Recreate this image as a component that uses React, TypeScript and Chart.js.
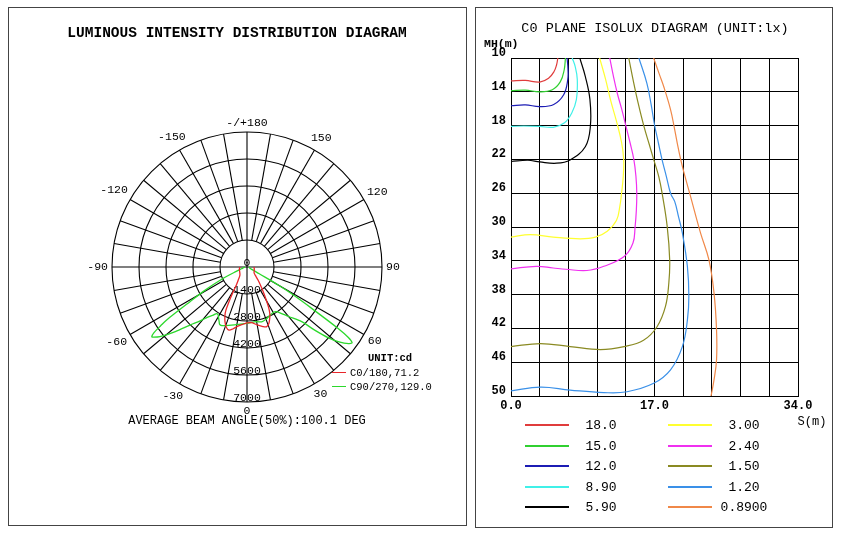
import React, { useEffect, useRef } from "react";
import { Chart, registerables } from "chart.js";

Chart.register(...registerables);

const MONO = "'Liberation Mono', 'DejaVu Sans Mono', monospace";

// ---------------- Luminous intensity (polar) data ----------------
const RING_VALUES = [0, 1400, 2800, 4200, 5600, 7000];
const ANGLE_MARKS = [0, 30, 60, 90, 120, 150, 180, 210, 240, 270, 300, 330];
const ANGLE_TEXT = ["0", "30", "60", "90", "120", "150", "-/+180", "-150", "-120", "-90", "-60", "-30"];
const SPOKE_STEP = 10;

const C0_GAMMA = [0, 5, 10, 15, 18, 21, 24, 26, 28, 30, 32, 35, 40, 45, 50, 60, 70, 80, 90];
const C0_CD = [2840, 2900, 3050, 3200, 3260, 3150, 2900, 2700, 2400, 2020, 1700, 1330, 900, 600, 480, 430, 400, 380, 360];
const C180_GAMMA = [0, 5, 10, 13, 16, 19, 22, 24.6, 26, 27.5, 29, 30.5, 34, 41, 55, 70, 90];
const C180_CD = [2900, 3000, 3150, 3300, 3400, 3300, 3050, 2740, 2500, 2000, 1500, 1100, 800, 560, 460, 420, 380];
const C90_GAMMA = [0, 10, 15, 20, 25, 30, 33, 36, 40, 45, 47, 49, 51, 53, 54.2, 55.2, 56, 57.4, 59, 60.1, 61, 63, 70, 90];
const C90_CD = [2840, 2880, 2940, 2880, 2780, 2720, 2760, 2950, 3350, 4010, 4800, 5600, 6200, 6600, 6720, 6400, 5700, 3980, 2700, 1870, 700, 300, 150, 100];
const C270_GAMMA = [0, 8, 15, 20, 23.3, 25.5, 27, 29.5, 31, 33, 35, 38, 41, 44.5, 48, 51.3, 53, 53.8, 54.8, 55.8, 56.6, 58.7, 61, 64.5, 68, 72, 80, 90];
const C270_CD = [2920, 3000, 3120, 3230, 3310, 3300, 3180, 3000, 2900, 2880, 3040, 3300, 3700, 4220, 5000, 5780, 6050, 6120, 5900, 5400, 4990, 3460, 2500, 1360, 600, 300, 150, 100];

const POLAR_LABELS = ["C0/180,71.2", "C90/270,129.0"];
const POLAR_COLORS = ["#e8262a", "#2cd82c"];

// ---------------- Isolux data ----------------
const S_TICKS = [0, 3.4, 6.8, 10.2, 13.6, 17, 20.4, 23.8, 27.2, 30.6, 34];
const S_LABELED = [0, 17, 34];
const MH_TICKS = [10, 14, 18, 22, 26, 30, 34, 38, 42, 46, 50];

const ISO_LEVELS = ["18.0", "15.0", "12.0", "8.90", "5.90", "3.00", "2.40", "1.50", "1.20", "0.8900"];
const ISO_COLORS = ["#e03c3c", "#30d030", "#1c1cb4", "#40f0e8", "#000000", "#ffff30", "#f030f0", "#8a8a22", "#3a90e8", "#f08848"];

const ISO_18_S = [0, 1.7, 3.4, 4.45, 5.1, 5.4, 5.55];
const ISO_18_MH = [12.7, 12.65, 12.85, 12.4, 11.6, 10.8, 10];
const ISO_15_S = [0, 1.7, 3.4, 4.9, 5.85, 6.3, 6.45];
const ISO_15_MH = [13.87, 13.8, 14.0, 13.75, 12.8, 11.4, 10];
const ISO_12_S = [0, 1.7, 3.4, 5.06, 6.24, 6.72, 6.75, 6.64];
const ISO_12_MH = [15.65, 15.55, 15.75, 15.5, 14.35, 12.6, 11.3, 10];
const ISO_89_S = [0, 1.5, 3.4, 5, 6.3, 7.2, 7.75, 7.85, 7.6, 7.25];
const ISO_89_MH = [18.1, 18.05, 18.1, 18.2, 17.7, 16.5, 14.9, 12.5, 11, 10];
const ISO_59_S = [0, 2, 3.4, 5.4, 7.0, 8.8, 9.4, 9.35, 8.8, 8.15];
const ISO_59_MH = [22.25, 22.1, 22.3, 22.45, 22.06, 20.5, 18.1, 14.9, 12.17, 10];
const ISO_30_S = [10.5, 11.2, 11.8, 12.5, 13.1, 13.35, 13.3, 13.1, 12.9, 12.5, 11.4, 10, 8.2, 5, 2.3, 0];
const ISO_30_MH = [10, 12.5, 15, 17.5, 20, 22, 24, 26, 27.5, 29.2, 30.5, 31.2, 31.4, 31.2, 30.9, 31.2];
const ISO_24_S = [11.7, 12.1, 12.6, 13.1, 13.6, 14.1, 14.55, 14.8, 14.9, 14.85, 14.7, 14.45, 13.4, 11, 9, 6.5, 5, 3, 0];
const ISO_24_MH = [10, 12, 14.2, 16, 18, 20, 22, 24, 26, 28, 30, 31.9, 33.5, 34.65, 35.15, 35.0, 34.85, 34.65, 34.95];
const ISO_15L_S = [13.95, 14.55, 15.1, 15.75, 16.4, 16.9, 17.5, 17.9, 18.5, 18.8, 18.7, 18.3, 17.3, 15.7, 13.4, 10.6, 7, 3.5, 0];
const ISO_15L_MH = [10, 13, 15.5, 18.1, 20.3, 22, 24, 26, 29.9, 33.9, 36.6, 39.4, 41.8, 43.4, 44.15, 44.5, 44.15, 43.8, 44.15];
const ISO_12L_S = [15.15, 16.1, 16.6, 17, 17.45, 17.9, 18.4, 18.9, 19.4, 19.85, 20.3, 20.9, 21.07, 20.9, 20.3, 18.9, 16.9, 13.75, 11, 7, 3.5, 0];
const ISO_12L_MH = [10, 13, 15.5, 17.9, 20, 22.05, 24, 26, 27, 28.8, 30.7, 34.7, 38.2, 41, 44.15, 46.9, 48.5, 49.5, 49.6, 49.3, 48.95, 49.4];
const ISO_089_S = [16.9, 17.6, 18.1, 18.9, 19.3, 19.7, 20.1, 20.5, 21.3, 22.45, 23.45, 24.05, 24.35, 24.35, 24.05, 23.7];
const ISO_089_MH = [10, 12, 13.4, 16.1, 18, 20.1, 22, 23.6, 26.5, 30.7, 33.9, 37.8, 42.2, 45.7, 48.1, 50];

const ISO_S = [ISO_18_S, ISO_15_S, ISO_12_S, ISO_89_S, ISO_59_S, ISO_30_S, ISO_24_S, ISO_15L_S, ISO_12L_S, ISO_089_S];
const ISO_MH = [ISO_18_MH, ISO_15_MH, ISO_12_MH, ISO_89_MH, ISO_59_MH, ISO_30_MH, ISO_24_MH, ISO_15L_MH, ISO_12L_MH, ISO_089_MH];

// ---------------- helpers ----------------
function halfPlane(gamma: number[], cd: number[], side: number) {
  return gamma.map((g, i) => {
    const t = (g * Math.PI) / 180;
    return { x: side * cd[i] * Math.sin(t), y: -cd[i] * Math.cos(t) };
  });
}

function planeCurve(lg: number[], lc: number[], rg: number[], rc: number[]) {
  const left = halfPlane(lg, lc, -1).reverse();
  const right = halfPlane(rg, rc, 1).slice(1);
  return left.concat(right);
}

const polarGridPlugin = {
  id: "polarGrid",
  beforeDatasetsDraw(chart: any) {
    const { ctx } = chart;
    const xs = chart.scales.x;
    const ys = chart.scales.y;
    const cx = xs.getPixelForValue(0);
    const cy = ys.getPixelForValue(0);
    const rad = (v: number) => xs.getPixelForValue(v) - cx;
    const rInner = rad(RING_VALUES[1]);
    const rOuter = rad(RING_VALUES[RING_VALUES.length - 1]);
    ctx.save();
    ctx.strokeStyle = "#000";
    ctx.lineWidth = 1.1;
    for (const v of RING_VALUES.slice(1)) {
      ctx.beginPath();
      ctx.arc(cx, cy, rad(v), 0, Math.PI * 2);
      ctx.stroke();
    }
    for (let a = 0; a < 360; a += SPOKE_STEP) {
      const t = (a * Math.PI) / 180;
      const s = Math.sin(t);
      const c = Math.cos(t);
      const r0 = a % 90 === 0 ? 0 : rInner;
      ctx.beginPath();
      ctx.moveTo(cx + r0 * s, cy + r0 * c);
      ctx.lineTo(cx + rOuter * s, cy + rOuter * c);
      ctx.stroke();
    }
    ctx.fillStyle = "#000";
    ctx.font = `11.5px ${MONO}`;
    ctx.textAlign = "center";
    ctx.textBaseline = "alphabetic";
    for (const v of RING_VALUES) {
      ctx.fillText(String(v), cx, cy + rad(v) - 1);
    }
    ctx.textBaseline = "middle";
    ANGLE_MARKS.forEach((a, i) => {
      const t = (a * Math.PI) / 180;
      const s = Math.sin(t);
      const c = Math.cos(t);
      const hw = ctx.measureText(ANGLE_TEXT[i]).width / 2;
      const r = rOuter + 4 + Math.abs(s) * hw + Math.abs(c) * 5;
      ctx.fillText(ANGLE_TEXT[i], cx + r * s, cy + r * c);
    });
    ctx.restore();
  },
};

function Label(props: { x: number; y: number; text: string; size: number; bold?: boolean; align?: string }) {
  const { x, y, text, size, bold, align = "center" } = props;
  const tx = align === "center" ? "-50%" : align === "right" ? "-100%" : "0";
  return (
    <div
      style={{
        position: "absolute",
        left: x,
        top: y,
        transform: `translate(${tx},-50%)`,
        font: `${bold ? "bold " : ""}${size}px ${MONO}`,
        color: "#000",
        whiteSpace: "pre",
        lineHeight: 1,
      }}
    >
      {text}
    </div>
  );
}

function PolarChart() {
  const ref = useRef<HTMLCanvasElement>(null);
  useEffect(() => {
    const red = planeCurve(C180_GAMMA, C180_CD, C0_GAMMA, C0_CD);
    const green = planeCurve(C270_GAMMA, C270_CD, C90_GAMMA, C90_CD);
    const chart = new Chart(ref.current as HTMLCanvasElement, {
      type: "scatter",
      data: {
        datasets: [
          { label: POLAR_LABELS[0], data: red, borderColor: POLAR_COLORS[0], showLine: true, pointRadius: 0, borderWidth: 1.3, tension: 0.3 },
          { label: POLAR_LABELS[1], data: green, borderColor: POLAR_COLORS[1], showLine: true, pointRadius: 0, borderWidth: 1.3, tension: 0.3 },
        ],
      },
      options: {
        animation: false,
        responsive: false,
        events: [],
        layout: { padding: { left: 103, right: 84, top: 124, bottom: 122 } },
        scales: {
          x: { type: "linear", min: -7000, max: 7000, display: false },
          y: { type: "linear", min: -7000, max: 7000, display: false },
        },
        plugins: { legend: { display: false }, tooltip: { enabled: false } },
      },
      plugins: [polarGridPlugin],
    } as any);
    return () => chart.destroy();
  }, []);
  return <canvas ref={ref} width={457} height={516} style={{ position: "absolute", left: 9, top: 8, width: 457, height: 516 }} />;
}

function IsoluxChart() {
  const ref = useRef<HTMLCanvasElement>(null);
  useEffect(() => {
    const datasets = ISO_LEVELS.map((lvl, k) => ({
      label: lvl,
      data: ISO_S[k].map((s, i) => ({ x: s, y: ISO_MH[k][i] })),
      borderColor: ISO_COLORS[k],
      showLine: true,
      pointRadius: 0,
      borderWidth: 1.2,
      tension: 0.4,
    }));
    const tickFont = { family: "'Liberation Mono', 'DejaVu Sans Mono', monospace", size: 12, weight: "bold" };
    const chart = new Chart(ref.current as HTMLCanvasElement, {
      type: "scatter",
      data: { datasets },
      options: {
        animation: false,
        responsive: false,
        events: [],
        layout: { padding: { left: 0, right: 34, top: 50, bottom: 110 } },
        scales: {
          x: {
            type: "linear",
            min: 0,
            max: 34,
            afterBuildTicks: (s: any) => {
              s.ticks = S_TICKS.map((v) => ({ value: v }));
            },
            afterFit: (s: any) => {
              s.height = 20;
            },
            grid: { color: "#000", lineWidth: 1, drawTicks: false },
            border: { color: "#000" },
            ticks: {
              padding: 3,
              color: "#000",
              font: tickFont,
              autoSkip: false,
              maxRotation: 0,
              callback: (v: number) => (S_LABELED.includes(v) ? v.toFixed(1) : ""),
            },
          },
          y: {
            type: "linear",
            min: 10,
            max: 50,
            reverse: true,
            afterBuildTicks: (s: any) => {
              s.ticks = MH_TICKS.map((v) => ({ value: v }));
            },
            afterFit: (s: any) => {
              s.width = 35;
            },
            grid: { color: "#000", lineWidth: 1, drawTicks: false },
            border: { color: "#000" },
            ticks: {
              padding: 5,
              labelOffset: -5,
              color: "#000",
              font: tickFont,
              autoSkip: false,
              callback: (v: number) => String(v),
            },
          },
        },
        plugins: { legend: { display: false }, tooltip: { enabled: false } },
      },
    } as any);
    return () => chart.destroy();
  }, []);
  return <canvas ref={ref} width={356} height={518} style={{ position: "absolute", left: 476, top: 8, width: 356, height: 518 }} />;
}

const LEGEND_ROWS_Y = [425, 445.5, 466, 486.5, 507];

export default function App() {
  return (
    <div style={{ position: "absolute", left: 0, top: 0, width: 850, height: 539, background: "#fff", overflow: "hidden" }}>
      <div style={{ position: "absolute", left: 8, top: 7, width: 459, height: 519, boxSizing: "border-box", border: "1px solid #444" }} />
      <div style={{ position: "absolute", left: 475, top: 7, width: 358, height: 521, boxSizing: "border-box", border: "1px solid #444" }} />

      <PolarChart />
      <Label x={237} y={33} text="LUMINOUS INTENSITY DISTRIBUTION DIAGRAM" size={14.5} bold />
      <Label x={247} y={421} text="AVERAGE BEAM ANGLE(50%):100.1 DEG" size={12} />
      <Label x={368} y={358} text="UNIT:cd" size={10.5} bold align="left" />
      {POLAR_LABELS.map((t, i) => (
        <React.Fragment key={t}>
          <div style={{ position: "absolute", left: 332, top: 372 + i * 14, width: 14, height: 1, backgroundColor: POLAR_COLORS[i] }} />
          <Label x={350} y={373 + i * 14} text={t} size={10.5} align="left" />
        </React.Fragment>
      ))}

      <IsoluxChart />
      <Label x={655} y={29} text="C0 PLANE ISOLUX DIAGRAM (UNIT:lx)" size={13.5} />
      <Label x={484} y={44} text="MH(m)" size={11.5} bold align="left" />
      <Label x={812} y={422} text="S(m)" size={12} />
      {ISO_LEVELS.map((lvl, k) => {
        const col = k < 5 ? 0 : 1;
        const row = k % 5;
        const lineX = col === 0 ? 525 : 668;
        const textX = col === 0 ? 601 : 744;
        const y = LEGEND_ROWS_Y[row];
        return (
          <React.Fragment key={lvl}>
            <div style={{ position: "absolute", left: lineX, top: Math.round(y) - 1, width: 44, height: 2, backgroundColor: ISO_COLORS[k] }} />
            <Label x={textX} y={y} text={lvl} size={13} />
          </React.Fragment>
        );
      })}
    </div>
  );
}
